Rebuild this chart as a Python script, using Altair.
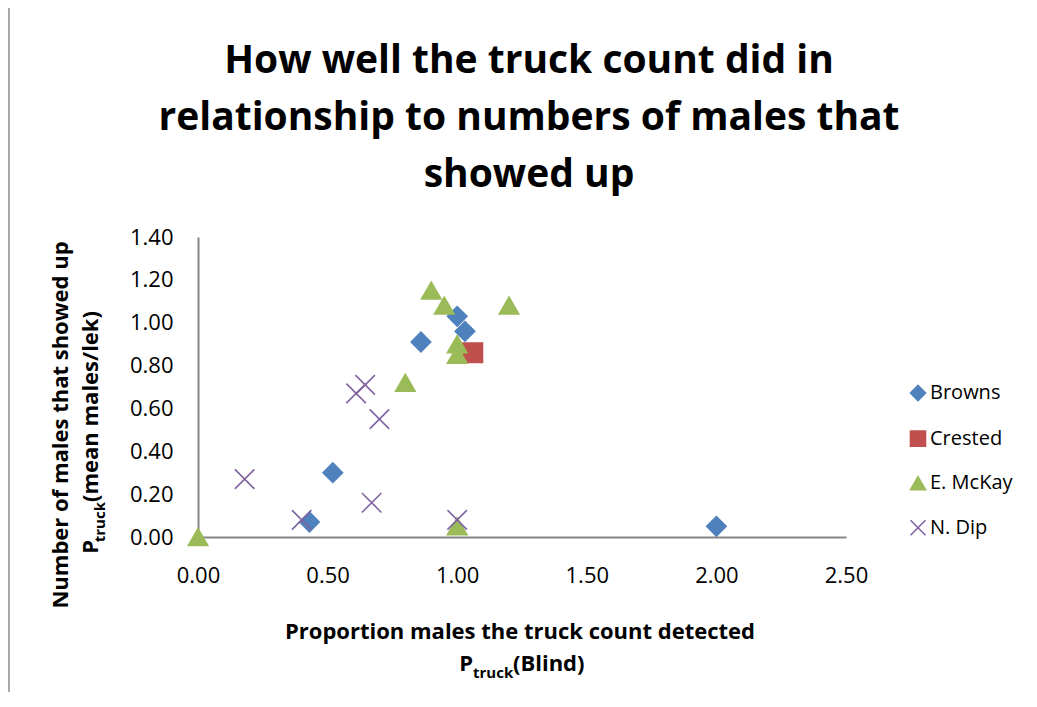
import altair as alt
import pandas as pd

# ---- data ----
browns_x = [1.00, 1.03, 0.86, 0.52, 0.43, 2.00]
browns_y = [1.03, 0.96, 0.91, 0.30, 0.07, 0.05]
crested_x = [1.06]
crested_y = [0.86]
mckay_x = [0.90, 0.95, 1.20, 1.00, 1.00, 0.80, 1.00, 0.00]
mckay_y = [1.15, 1.08, 1.08, 0.90, 0.85, 0.72, 0.05, 0.00]
ndip_x = [0.645, 0.61, 0.70, 0.18, 0.67, 0.40, 1.00]
ndip_y = [0.71, 0.67, 0.55, 0.27, 0.16, 0.08, 0.08]

series = ["Browns", "Crested", "E. McKay", "N. Dip"]
colors = ["#4F81BD", "#C0504D", "#9BBB59", "#8064A2"]
shapes = ["diamond", "square", "triangle-up", "M-1,-1L1,1M-1,1L1,-1"]

x_ticks = [0.0, 0.5, 1.0, 1.5, 2.0, 2.5]
y_ticks = [0.0, 0.2, 0.4, 0.6, 0.8, 1.0, 1.2, 1.4]

title_lines = ["How well the truck count did in",
               "relationship to numbers of males that",
               "showed up"]

rows = []
for name, xs, ys in [("Browns", browns_x, browns_y),
                     ("Crested", crested_x, crested_y),
                     ("E. McKay", mckay_x, mckay_y),
                     ("N. Dip", ndip_x, ndip_y)]:
    for xv, yv in zip(xs, ys):
        rows.append({"series": name, "x": xv, "y": yv})
df = pd.DataFrame(rows)

FONT = "Open Sans"
W, H = 648, 300

color_scale = alt.Scale(domain=series, range=colors)
legend = alt.Legend(title=None, orient="none", legendX=710, legendY=146,
                    labelFont=FONT, labelFontSize=20, labelColor="#000",
                    symbolSize=225, symbolStrokeWidth=1.6, rowPadding=23.6, labelOffset=2)

points = alt.Chart(df).mark_point(filled=True, size=380, strokeWidth=1.6, opacity=1).encode(
    x=alt.X("x:Q", scale=alt.Scale(domain=[0, 2.5], nice=False),
            axis=alt.Axis(values=x_ticks, format=".2f", title=None, grid=False,
                          ticks=False, tickSize=0, labelFlush=False,
                          domainColor="#868686", domainWidth=2,
                          labelFont=FONT, labelFontSize=22, labelColor="#000",
                          labelPadding=28)),
    y=alt.Y("y:Q", scale=alt.Scale(domain=[0, 1.4], nice=False),
            axis=alt.Axis(values=y_ticks, format=".2f", title=None, grid=False,
                          ticks=False, tickSize=0, labelFlush=False,
                          domainColor="#868686", domainWidth=2,
                          labelFont=FONT, labelFontSize=22, labelColor="#000",
                          labelPadding=25)),
    fill=alt.Fill("series:N", scale=color_scale, legend=legend),
    stroke=alt.Stroke("series:N", scale=color_scale, legend=legend),
    shape=alt.Shape("series:N", scale=alt.Scale(domain=series, range=shapes), legend=legend),
)

def txt(text, x, y, size, angle=0, align="center", baseline="alphabetic", weight="bold"):
    d = pd.DataFrame({"t": [text]})
    kw = dict(font=FONT, fontWeight=weight, fontSize=size, color="#000",
              align=align, baseline=baseline)
    if angle:
        kw["angle"] = angle
    return alt.Chart(d).mark_text(**kw).encode(
        text="t:N", x=alt.value(x), y=alt.value(y))

# chart title
tt = [txt(line, 331, -164 + 57 * i, 39) for i, line in enumerate(title_lines)]

# x-axis title (with subscript)
xt1 = txt("Proportion males the truck count detected", 322, 402, 22)
xt2 = txt("P", 275, 434, 22, align="right")
xt3 = txt("truck", 275, 441, 15, align="left")
xt4 = txt("(Blind)", 315, 434, 22, align="left")

# y-axis title (rotated, with subscript)
yt1 = txt("Number of males that showed up", -130, 188, 22, angle=270)
yt2 = txt("P", -100, 303, 22, angle=270, align="right")
yt3 = txt("truck", -93, 265, 15, angle=270, align="right")
yt4 = txt("(mean males/lek)", -100, 265, 22, angle=270, align="left")

border = alt.Chart(pd.DataFrame({"a": [0]})).mark_rule(color="#8C8C8C", strokeWidth=1.5).encode(
    x=alt.value(-189), y=alt.value(-229), y2=alt.value(455))

chart = alt.layer(border, points, *tt, xt1, xt2, xt3, xt4, yt1, yt2, yt3, yt4).properties(
    width=W, height=H,
    autosize=alt.AutoSizeParams(type="none"),
    padding={"left": 190, "top": 229, "right": 175, "bottom": 155},
).configure_view(stroke=None)

chart.save("out.html", embed_options={"renderer": "svg", "actions": False})
